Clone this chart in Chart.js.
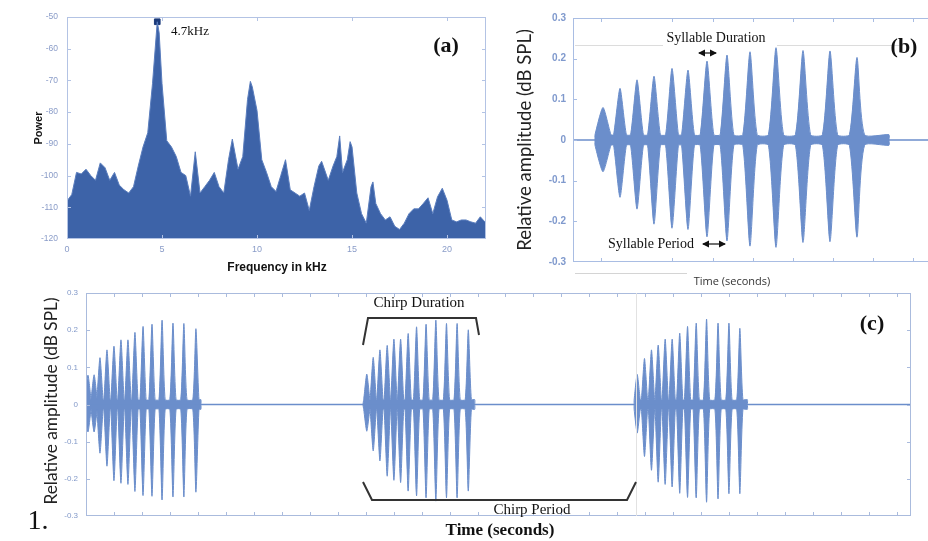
<!DOCTYPE html>
<html>
<head>
<meta charset="utf-8">
<script src="https://cdn.jsdelivr.net/npm/chart.js@4/dist/chart.umd.min.js"></script>
<style>
  body { margin: 0; width: 928px; height: 541px; overflow: hidden; position: relative; background: #fff; }
  canvas { position: absolute; }
  .t { position: absolute; white-space: nowrap; color: #111; }
  .serif { font-family: "Liberation Serif", "DejaVu Serif", serif; }
  .sans { font-family: "Liberation Sans", Arial, sans-serif; }
  .rot { transform: translate(-50%, -50%) rotate(-90deg); }
  .mid { transform: translate(-50%, -50%); }
</style>
</head>
<body>
<canvas id="ga" width="500" height="280" style="left:0;top:0"></canvas>
<canvas id="gb" width="500" height="290" style="left:500px;top:0"></canvas>
<canvas id="gc" width="928" height="261" style="left:0;top:280px"></canvas>

<svg width="928" height="541" style="position:absolute;left:0;top:0">
  <defs>
    <marker id="ah" markerWidth="6" markerHeight="6" refX="5" refY="3" orient="auto-start-reverse">
      <path d="M0,0 L6,3 L0,6 z" fill="#111"/>
    </marker>
  </defs>
  <!-- faint leftovers in (b) -->
  <line x1="575" y1="45.5" x2="663" y2="45.5" stroke="#dcdcdc" stroke-width="1"/>
  <line x1="777" y1="45.5" x2="903" y2="45.5" stroke="#dcdcdc" stroke-width="1"/>
  <line x1="575" y1="273.5" x2="687" y2="273.5" stroke="#d4d4d4" stroke-width="1"/>
  <line x1="636.5" y1="293" x2="636.5" y2="516" stroke="#e2e2e2" stroke-width="1"/>
  <!-- arrows -->
  <line x1="699" y1="53" x2="716" y2="53" stroke="#111" stroke-width="1.2" marker-start="url(#ah)" marker-end="url(#ah)"/>
  <line x1="703" y1="244" x2="725" y2="244" stroke="#111" stroke-width="1.2" marker-start="url(#ah)" marker-end="url(#ah)"/>
  <!-- brackets -->
  <polyline points="363,345 368,318 476,318 479,335" fill="none" stroke="#333" stroke-width="2"/>
  <polyline points="363,482 372,500 627,500 636,482" fill="none" stroke="#333" stroke-width="2"/>
</svg>

<!-- texts -->
<div class="t sans rot" style="left:38px;top:128px;font-size:11px;font-weight:bold">Power</div>
<div class="t sans mid" style="left:277px;top:267px;font-size:12px;font-weight:bold">Frequency in kHz</div>
<div class="t serif mid" style="left:190px;top:31px;font-size:13px">4.7kHz</div>
<div class="t serif mid" style="left:446px;top:45px;font-size:22px;font-weight:bold">(a)</div>

<div class="t rot" style="left:524px;top:140px;font-size:18.5px;font-family:Lato;color:#222">Relative amplitude (dB SPL)</div>
<div class="t mid" style="left:732px;top:280px;font-size:11px;font-family:'Open Sans';color:#333">Time (seconds)</div>
<div class="t serif mid" style="left:716px;top:38px;font-size:14px">Syllable Duration</div>
<div class="t serif mid" style="left:651px;top:244px;font-size:14px">Syllable Period</div>
<div class="t serif mid" style="left:904px;top:46px;font-size:22px;font-weight:bold">(b)</div>

<div class="t rot" style="left:50px;top:401px;font-size:17.3px;font-family:Lato;color:#222">Relative amplitude (dB SPL)</div>
<div class="t serif mid" style="left:419px;top:302px;font-size:15px">Chirp Duration</div>
<div class="t serif mid" style="left:532px;top:509px;font-size:15px">Chirp Period</div>
<div class="t serif mid" style="left:872px;top:323px;font-size:22px;font-weight:bold">(c)</div>
<div class="t serif mid" style="left:500px;top:530px;font-size:17px;font-weight:bold">Time (seconds)</div>
<div class="t serif mid" style="left:38px;top:520px;font-size:28px">1.</div>

<script>
// (a) power spectrum, kHz / dB
var freqKHz = [0, 0.25, 0.5, 0.75, 1, 1.25, 1.5, 1.75, 2, 2.25, 2.5, 2.75, 3, 3.25, 3.5, 3.75,
  4, 4.25, 4.5, 4.75, 4.85, 5, 5.25, 5.5, 5.75, 6, 6.25, 6.5, 6.75, 7, 7.25, 7.5, 7.75, 8, 8.25, 8.5,
  8.7, 9, 9.25, 9.5, 9.65, 9.75, 10, 10.25, 10.5, 10.75, 11, 11.25, 11.5, 11.75, 12, 12.25, 12.5,
  12.75, 13, 13.25, 13.4, 13.75, 14, 14.2, 14.35, 14.5, 14.75, 14.9, 15, 15.25, 15.5, 15.75, 16,
  16.1, 16.25, 16.5, 16.75, 17, 17.25, 17.5, 17.75, 18, 18.25, 18.5, 18.75, 19, 19.25, 19.5, 19.75,
  20, 20.25, 20.5, 20.75, 21, 21.25, 21.5, 21.75, 22.05];
var powerDb = [-108, -106, -99, -99.5, -98, -100, -101.5, -96, -97.5, -101.5, -99, -103, -104.5, -105.5, -103.5, -97,
  -91, -86.5, -71, -51.5, -55, -71, -89, -91, -94, -99, -100, -106.5, -92.5, -105.5, -103.5, -101.5, -99, -103.5, -105.5, -95,
  -88.5, -98, -94, -76, -70.3, -72, -79.5, -95, -99, -103.5, -105, -100, -95, -104.5, -105.5, -106.5, -105.5,
  -111, -103.5, -97, -95.5, -101.5, -97, -94, -87.5, -99, -95, -89.3, -91, -105.5, -112, -115, -103.5,
  -102, -108.8, -112, -114, -113, -116, -117, -115, -112, -110.5, -110.5, -108.8, -107, -112, -106.7, -104,
  -107.8, -114, -114.6, -114, -114, -114.6, -115, -113, -115];
var peakKHz = 4.75, peakDb = -51.5;
var powerTicks = [-120, -110, -100, -90, -80, -70, -60, -50];

// (b) one chirp: syllable peak times (s) and envelope maxima / minima
var bTimes = [0.075, 0.1175, 0.16, 0.2025, 0.2475, 0.2875, 0.335, 0.385, 0.4425, 0.5075, 0.575, 0.6425, 0.71];
var bTops = [0.08, 0.127, 0.148, 0.157, 0.176, 0.172, 0.194, 0.209, 0.217, 0.227, 0.22, 0.219, 0.203];
var bBottoms = [-0.078, -0.141, -0.17, -0.207, -0.217, -0.22, -0.238, -0.248, -0.261, -0.264, -0.252, -0.25, -0.239];
var bHalfWidths = [0.02, 0.016, 0.016, 0.016, 0.016, 0.016, 0.017, 0.017, 0.018, 0.019, 0.019, 0.019, 0.019];
var bChirpStart = 0.055, bChirpEnd = 0.79;
var bTimeTicks = [0.07, 0.2475, 0.35, 0.45, 0.55, 0.65, 0.75, 0.85, 0.95];

// (c) three chirps
var cStarts = [0, 0.99, 1.96];
var cEnds = [0.411, 1.39, 2.365];
var cTimes = [
  [0.007, 0.029, 0.05, 0.075, 0.1, 0.125, 0.15, 0.175, 0.204, 0.236, 0.272, 0.311, 0.35, 0.393],
  [1.004, 1.027, 1.051, 1.077, 1.101, 1.125, 1.152, 1.182, 1.216, 1.251, 1.289, 1.327, 1.367],
  [1.971, 1.997, 2.022, 2.046, 2.071, 2.096, 2.123, 2.151, 2.182, 2.219, 2.26, 2.299, 2.338]
];
var cTops = [
  [0.079, 0.08, 0.126, 0.147, 0.157, 0.174, 0.174, 0.194, 0.21, 0.216, 0.227, 0.219, 0.218, 0.204],
  [0.082, 0.127, 0.147, 0.159, 0.176, 0.176, 0.191, 0.209, 0.216, 0.227, 0.218, 0.218, 0.201],
  [0.081, 0.124, 0.147, 0.16, 0.176, 0.176, 0.192, 0.21, 0.219, 0.23, 0.219, 0.219, 0.205]
];
var cBottoms = [
  [-0.074, -0.074, -0.131, -0.166, -0.205, -0.212, -0.215, -0.234, -0.245, -0.247, -0.257, -0.249, -0.249, -0.236],
  [-0.072, -0.125, -0.152, -0.193, -0.204, -0.21, -0.233, -0.246, -0.251, -0.26, -0.251, -0.251, -0.233],
  [-0.077, -0.14, -0.177, -0.209, -0.215, -0.222, -0.239, -0.25, -0.251, -0.263, -0.254, -0.24, -0.24]
];
var cHalfWidth = 0.011;
var noiseLevel = 0.013;
var ampTicks = [-0.3, -0.2, -0.1, 0, 0.1, 0.2, 0.3];

var waveBlue = '#6b8ecb';

// outline of one chirp (upper or lower side)
function envelope(start, end, times, amps, halfW, noise) {
  var pts = [{x: start, y: 0}];
  for (var i = 0; i < times.length; i++) {
    var hw = Array.isArray(halfW) ? halfW[i] : halfW;
    pts.push({x: times[i] - hw, y: noise});
    pts.push({x: times[i], y: amps[i]});
    pts.push({x: times[i] + hw, y: noise});
  }
  pts.push({x: end, y: noise});
  pts.push({x: end, y: 0});
  return pts;
}

// box around the plot + inward tick marks
var frame = {
  id: 'frame',
  afterDraw: function(chart, args, o) {
    var ctx = chart.ctx, a = chart.chartArea, x = chart.scales.x, y = chart.scales.y;
    ctx.save();
    ctx.strokeStyle = o.color;
    ctx.lineWidth = 1;
    ctx.strokeRect(Math.round(a.left) + 0.5, Math.round(a.top) + 0.5, Math.round(a.right - a.left) - 1, Math.round(a.bottom - a.top) - 1);
    ctx.beginPath();
    x.ticks.forEach(function(t) {
      var px = Math.round(x.getPixelForValue(t.value)) + 0.5;
      if (px < a.left + 2 || px > a.right - 2) return;
      ctx.moveTo(px, a.top); ctx.lineTo(px, a.top + o.len);
      ctx.moveTo(px, a.bottom); ctx.lineTo(px, a.bottom - o.len);
    });
    y.ticks.forEach(function(t) {
      var py = Math.round(y.getPixelForValue(t.value)) + 0.5;
      if (py < a.top + 2 || py > a.bottom - 2) return;
      ctx.moveTo(a.left, py); ctx.lineTo(a.left + o.len, py);
      ctx.moveTo(a.right, py); ctx.lineTo(a.right - o.len, py);
    });
    ctx.stroke();
    ctx.restore();
  }
};

function ampLabel(v) {
  if (Math.abs(v) < 1e-9) return '0';
  return v.toFixed(1);
}

var noGrid = {display: false, drawTicks: false};

// ---------- (a) spectrum ----------
var spectrum = freqKHz.map(function(f, i) { return {x: f, y: powerDb[i]}; });
new Chart(document.getElementById('ga'), {
  type: 'line',
  data: {
    datasets: [{
      data: spectrum,
      borderColor: '#5a7dbd',
      backgroundColor: '#3d63a8',
      borderWidth: 1,
      pointRadius: 0,
      fill: 'start',
      tension: 0
    }, {
      type: 'scatter',
      data: [{x: peakKHz, y: peakDb}],
      pointStyle: 'rect',
      pointRadius: 4,
      backgroundColor: '#1b3a7a',
      borderColor: '#1b3a7a'
    }]
  },
  options: {
    responsive: false,
    animation: false,
    layout: {padding: {top: 17, right: 14, left: 0, bottom: 0}},
    plugins: {legend: {display: false}, tooltip: {enabled: false},
      frame: {color: '#b3c3e4', len: 4}},
    scales: {
      x: {
        type: 'linear', min: 0, max: 22.05,
        grid: noGrid, border: {display: false},
        ticks: {stepSize: 5, includeBounds: false, padding: 5, maxRotation: 0,
          color: '#8a9cc8', font: {family: 'Liberation Sans', size: 9}},
        afterFit: function(s) { s.height = 41; }
      },
      y: {
        min: -120, max: -50,
        grid: noGrid, border: {display: false},
        afterBuildTicks: function(s) { s.ticks = powerTicks.map(function(v) { return {value: v}; }); },
        ticks: {padding: 9, color: '#8a9cc8', font: {family: 'Liberation Sans', size: 8.5}},
        afterFit: function(s) { s.width = 67; }
      }
    }
  },
  plugins: [frame]
});

// ---------- (b) one chirp ----------
new Chart(document.getElementById('gb'), {
  type: 'line',
  data: {
    datasets: [
      {data: envelope(bChirpStart, bChirpEnd, bTimes, bTops, bHalfWidths, noiseLevel)},
      {data: envelope(bChirpStart, bChirpEnd, bTimes, bBottoms, bHalfWidths, -noiseLevel)},
      {data: [{x: 0, y: 0}, {x: 1, y: 0}], fill: false, borderWidth: 1.5, tension: 0}
    ].map(function(d) {
      return Object.assign({borderColor: waveBlue, backgroundColor: waveBlue, borderWidth: 1,
        pointRadius: 0, fill: 'origin', tension: 0.2}, d);
    })
  },
  options: {
    responsive: false,
    animation: false,
    layout: {padding: {top: 18, right: 27, left: 0, bottom: 0}},
    plugins: {legend: {display: false}, tooltip: {enabled: false},
      frame: {color: '#a9bde3', len: 4}},
    scales: {
      x: {
        type: 'linear', min: 0, max: 1,
        grid: noGrid, border: {display: false},
        afterBuildTicks: function(s) { s.ticks = bTimeTicks.map(function(v) { return {value: v}; }); },
        ticks: {display: false},
        afterFit: function(s) { s.height = 28; }
      },
      y: {
        min: -0.3, max: 0.3,
        grid: noGrid, border: {display: false},
        afterBuildTicks: function(s) { s.ticks = ampTicks.map(function(v) { return {value: v}; }); },
        ticks: {padding: 7, color: '#7f99cd', callback: ampLabel,
          font: {family: 'Liberation Sans', size: 10, weight: 'bold'}},
        afterFit: function(s) { s.width = 73; }
      }
    }
  },
  plugins: [frame]
});

// ---------- (c) three chirps ----------
var cSets = [];
cStarts.forEach(function(s, k) {
  cSets.push({data: envelope(s, cEnds[k], cTimes[k], cTops[k], cHalfWidth, noiseLevel)});
  cSets.push({data: envelope(s, cEnds[k], cTimes[k], cBottoms[k], cHalfWidth, -noiseLevel)});
});
cSets.push({data: [{x: 0, y: 0}, {x: 2.95, y: 0}], fill: false, borderWidth: 1.5, tension: 0});

new Chart(document.getElementById('gc'), {
  type: 'line',
  data: {
    datasets: cSets.map(function(d) {
      return Object.assign({borderColor: waveBlue, backgroundColor: waveBlue, borderWidth: 1,
        pointRadius: 0, fill: 'origin', tension: 0.2}, d);
    })
  },
  options: {
    responsive: false,
    animation: false,
    layout: {padding: {top: 13, right: 17, left: 0, bottom: 0}},
    plugins: {legend: {display: false}, tooltip: {enabled: false},
      frame: {color: '#aabbdd', len: 4}},
    scales: {
      x: {
        type: 'linear', min: 0, max: 2.95,
        grid: noGrid, border: {display: false},
        ticks: {display: false, stepSize: 0.1, includeBounds: false},
        afterFit: function(s) { s.height = 25; }
      },
      y: {
        min: -0.3, max: 0.3,
        grid: noGrid, border: {display: false},
        afterBuildTicks: function(s) { s.ticks = ampTicks.map(function(v) { return {value: v}; }); },
        ticks: {padding: 8, color: '#8299c9', callback: ampLabel,
          font: {family: 'Liberation Sans', size: 8}},
        afterFit: function(s) { s.width = 86; }
      }
    }
  },
  plugins: [frame]
});
</script>
</body>
</html>
